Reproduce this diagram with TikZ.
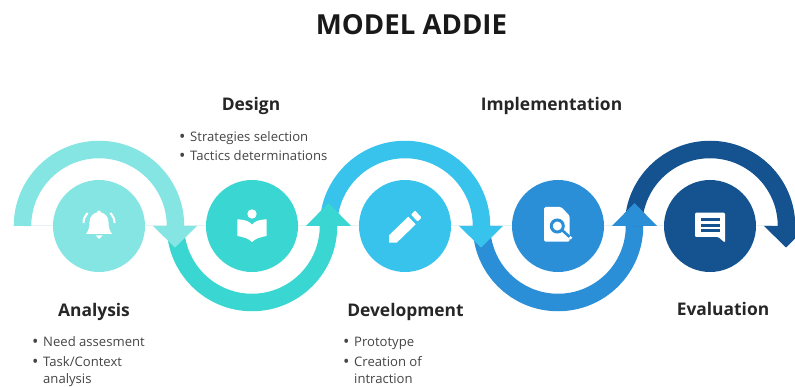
\documentclass[tikz,border=0pt]{standalone}
\usepackage{fontspec}
\setmainfont{Open Sans}
\definecolor{cA}{HTML}{84E5E3}
\definecolor{cB}{HTML}{3AD6D1}
\definecolor{cC}{HTML}{38C3EC}
\definecolor{cD}{HTML}{2B8FD8}
\definecolor{cE}{HTML}{14538F}
\definecolor{headtxt}{HTML}{262626}
\definecolor{bodytxt}{HTML}{444444}
\definecolor{faint}{HTML}{E6F3F4}
\newcommand{\bul}[1]{\makebox[11pt][l]{\raisebox{-1pt}{\fontsize{17}{17}\selectfont\textbullet}}#1}
\tikzset{
  x=1pt,y=1pt,
  stage/.style={circle,minimum size=92pt,inner sep=0pt,fill=#1},
  band/.style={line width=17.5pt,draw=#1,line cap=butt},
  hair/.style={draw=faint,line width=1pt},
  heading/.style={font=\fontsize{17.4}{20}\selectfont\bfseries,text=headtxt,inner sep=0pt,anchor=base},
  item/.style={font=\fontsize{13.1}{15}\selectfont,text=bodytxt,inner sep=0pt,anchor=base west},
  title/.style={font=\fontsize{27.6}{30}\selectfont\bfseries,text=black!90,inner sep=0pt,anchor=base},
  ico/.style={fill=white,draw=none}
}
\begin{document}
\begin{tikzpicture}
\useasboundingbox (0,0) rectangle (795,-387);
\clip (0,0) rectangle (795,-387);
\node[title] (ttl) at (411.5,-35) {MODEL ADDIE};
% hairlines
\coordinate (lfree) at (13,-226);
\coordinate (rfree) at (772,-226);
\coordinate (ca) at (99,-226);
\coordinate (cb) at (252,-226);
\coordinate (cc) at (405,-226);
\coordinate (cd) at (558,-226);
\coordinate (ce) at (710,-226);
\draw[hair] (lfree) -- (ce);
\draw[hair] (ce) -- (rfree);
% stages
\node[stage=cA] (na) at (ca) {};
\node[stage=cB] (nb) at (cb) {};
\node[stage=cC] (nc) at (cc) {};
\node[stage=cD] (nd) at (cd) {};
\node[stage=cE] (ne) at (ce) {};
% bands
\draw[band=cB] ([xshift=-76.5pt]nb.center) arc[start angle=180,end angle=360,radius=76.5pt];
\draw[band=cA] ([xshift=-76.5pt]na.center) arc[start angle=180,end angle=0,radius=76.5pt];
\draw[band=cD] ([xshift=-76.5pt]nd.center) arc[start angle=180,end angle=360,radius=76.5pt];
\draw[band=cC] ([xshift=-76.5pt]nc.center) arc[start angle=180,end angle=0,radius=76.5pt];
\draw[band=cE] ([xshift=-76.5pt]ne.center) arc[start angle=180,end angle=0,radius=76.5pt];
% arrow heads
\foreach \n/\c in {na/cA,nc/cC,ne/cE}{
  \fill[\c] ([xshift=54pt]\n.center) -- ([xshift=98pt]\n.center) -- ([xshift=76pt,yshift=-21.5pt]\n.center) -- cycle;
}
\foreach \n/\c in {nb/cB,nd/cD}{
  \fill[\c] ([xshift=54pt]\n.center) -- ([xshift=99pt]\n.center) -- ([xshift=76.5pt,yshift=23pt]\n.center) -- cycle;
}
% bell
\begin{scope}[shift={(ca)}]
  \fill[ico] (-13,-8) .. controls (-10,-4) and (-9.5,0) .. (-9.5,4) .. controls (-9.5,10) and (-5,13) .. (-2,13.5) arc[start angle=180,end angle=0,radius=2] .. controls (5,13) and (9.5,10) .. (9.5,4) .. controls (9.5,0) and (10,-4) .. (13,-8) -- cycle;
  \fill[ico] (-3.5,-9.5) -- (3.5,-9.5) -- (0,-13) -- cycle;
  \draw[white,line width=2.1pt] (-15.5,3) .. controls (-15.5,7) and (-14,10.5) .. (-11.5,13);
  \draw[white,line width=2.1pt] (15.5,3) .. controls (15.5,7) and (14,10.5) .. (11.5,13);
\end{scope}
% book
\begin{scope}[shift={(cb)}]
  \fill[ico] (0,12) circle[radius=4.7];
  \fill[ico] (-14.7,6.7) .. controls (-8,6.5) and (-3,5) .. (0,1.5) .. controls (3,5) and (8,6.5) .. (14.7,6.7) -- (14.7,-10) .. controls (8,-11) and (3,-13) .. (0,-16) .. controls (-3,-13) and (-8,-11) .. (-14.7,-10) -- cycle;
\end{scope}
% pencil
\begin{scope}[shift={(cc)}]
  \fill[ico] (-16,-16.7) -- (-16,-9.3) -- (3.3,9.3) -- (10.7,1.7) -- (-8.3,-16.7) -- cycle;
  \fill[ico,rounded corners=1pt] (6,11.5) -- (10,15.5) -- (16.5,8.5) -- (12.5,4.5) -- cycle;
\end{scope}
% document with magnifier
\begin{scope}[shift={(cd)}]
  \fill[ico,rounded corners=1.5pt] (-14,19) -- (3.3,19) -- (11.7,10) -- (11.7,-15.7) -- (-14,-15.7) -- cycle;
  \draw[cD,line width=3pt] (-0.7,0) circle[radius=6];
  \draw[cD,line width=2.6pt] (4.5,-4.5) -- (11.7,-11);
  \draw[white,line width=2.6pt] (11.7,-11) -- (13.5,-12.6);
\end{scope}
% speech bubble
\begin{scope}[shift={(ce)}]
  \fill[ico,rounded corners=1.2pt] (-15,13.3) -- (15,13.3) -- (15,-16.7) -- (8.3,-11) -- (-15,-11) -- cycle;
  \foreach \yy in {6,0.5,-5}{\fill[cE] (-9,\yy-1.5) rectangle (9.5,\yy+1.5);}
\end{scope}
% headings
\node[heading] (tb) at (251,-111) {Design};
\node[heading] (td) at (551.5,-111) {Implementation};
\node[heading] (ta) at (94,-316.5) {Analysis};
\node[heading] (tc) at (405.5,-316.5) {Development};
\node[heading] (te) at (723,-316) {Evaluation};
% lists
\node[item] (b1) at (179,-141.5) {\bul{Strategies selection}};
\node[item] (b2) at (179,-161) {\bul{Tactics determinations}};
\node[item] (a1) at (32,-346.5) {\bul{Need assesment}};
\node[item] (a2) at (32,-366) {\bul{Task/Context}};
\node[item] (a3) at (43,-383.5) {analysis};
\node[item] (c1) at (343,-346.5) {\bul{Prototype}};
\node[item] (c2) at (343,-366) {\bul{Creation of}};
\node[item] (c3) at (354,-383.5) {intraction};
\end{tikzpicture}
\end{document}
